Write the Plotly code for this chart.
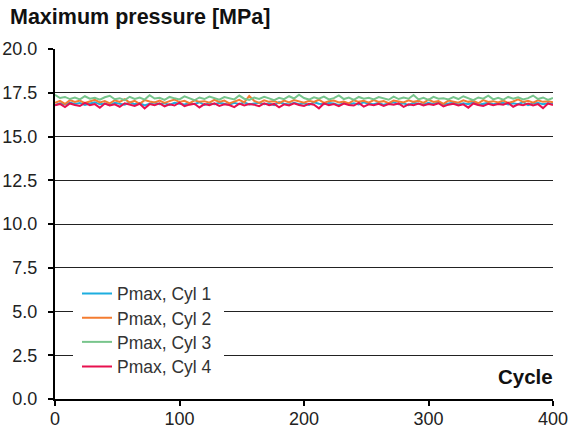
import plotly.graph_objects as go

cycles = list(range(0, 401, 4))

pmax_cyl1 = [
    16.80, 16.90, 16.83, 16.94, 16.86, 16.91, 16.81, 16.88, 16.96, 16.84,
    16.89, 16.79, 16.93, 16.87, 16.82, 16.95, 16.85, 16.91, 16.78, 16.88,
    16.94, 16.84, 16.90, 16.81, 16.93, 16.87, 16.83, 16.91, 16.85, 16.96,
    16.80, 16.90, 16.84, 16.93, 16.87, 16.81, 16.92, 16.85, 16.95, 16.83,
    16.88, 16.93, 16.84, 16.90, 16.79, 16.96, 16.87, 16.83, 16.92, 16.85,
    16.90, 16.81, 16.95, 16.87, 16.84, 16.92, 16.88, 16.79, 16.93, 16.85,
    16.90, 16.83, 16.96, 16.87, 16.84, 16.92, 16.81, 16.88, 16.95, 16.85,
    16.90, 16.79, 16.93, 16.87, 16.83, 16.92, 16.85, 16.96, 16.84, 16.88,
    16.93, 16.83, 16.90, 16.85, 16.95, 16.81, 16.88, 16.92, 16.84, 16.87,
    16.93, 16.83, 16.90, 16.85, 16.96, 16.79, 16.88, 16.92, 16.84, 16.90, 16.85]

pmax_cyl2 = [
    16.93, 17.04, 16.86, 17.08, 16.97, 17.05, 16.91, 17.00, 17.10, 16.95,
    17.02, 16.89, 17.07, 16.98, 17.13, 16.94, 17.04, 16.87, 17.08, 17.00,
    16.95, 17.05, 16.92, 17.02, 17.11, 16.97, 17.04, 16.90, 17.07, 16.98,
    17.02, 16.93, 17.09, 16.97, 17.05, 16.89, 17.00, 17.10, 16.95, 17.32,
    17.04, 16.92, 17.07, 16.98, 17.02, 16.90, 17.05, 16.95, 17.08, 17.00,
    16.93, 17.04, 16.97, 17.10, 16.92, 17.02, 17.05, 16.95, 17.00, 16.89,
    17.07, 16.98, 17.04, 16.93, 17.08, 16.97, 17.02, 16.90, 17.05, 17.00,
    16.95, 17.07, 16.98, 17.04, 16.92, 17.10, 16.97, 17.02, 16.87, 17.05,
    17.00, 16.93, 17.07, 16.98, 17.04, 16.90, 17.08, 16.97, 17.02, 16.95,
    17.05, 16.92, 17.00, 17.12, 16.97, 17.04, 16.93, 17.07, 16.98, 17.02, 16.95]

pmax_cyl3 = [
    17.38, 17.20, 17.26, 17.14, 17.22, 17.12, 17.30, 17.16, 17.21, 17.10,
    17.24, 17.33, 17.13, 17.19, 17.08, 17.27, 17.15, 17.23, 17.11, 17.36,
    17.17, 17.21, 17.09, 17.26, 17.18, 17.12, 17.29, 17.19, 17.07, 17.23,
    17.14, 17.28, 17.17, 17.10, 17.25, 17.19, 17.12, 17.34, 17.16, 17.09,
    17.22, 17.15, 17.27, 17.18, 17.08, 17.21, 17.13, 17.30, 17.17, 17.39,
    17.20, 17.11, 17.24, 17.16, 17.28, 17.12, 17.19, 17.35, 17.14, 17.22,
    17.09, 17.26, 17.16, 17.21, 17.12, 17.25, 17.18, 17.10, 17.28, 17.14,
    17.23, 17.16, 17.37, 17.12, 17.21, 17.09, 17.27, 17.16, 17.19, 17.12,
    17.25, 17.14, 17.30, 17.18, 17.08, 17.23, 17.16, 17.33, 17.12, 17.21,
    17.10, 17.26, 17.16, 17.24, 17.12, 17.19, 17.34, 17.14, 17.23, 17.09, 17.20]

pmax_cyl4 = [
    16.78, 16.86, 16.68, 16.89, 16.80, 16.74, 16.92, 16.79, 16.85, 16.64,
    16.88, 16.77, 16.84, 16.70, 16.90, 16.81, 16.75, 16.87, 16.60, 16.85,
    16.79, 16.89, 16.72, 16.84, 16.77, 16.93, 16.74, 16.82, 16.87, 16.66,
    16.85, 16.79, 16.90, 16.75, 16.84, 16.80, 16.68, 16.88, 16.77, 16.85,
    16.82, 16.73, 16.89, 16.79, 16.86, 16.67, 16.84, 16.77, 16.90, 16.80,
    16.75, 16.87, 16.82, 16.61, 16.89, 16.79, 16.85, 16.73, 16.88, 16.80,
    16.77, 16.92, 16.71, 16.84, 16.79, 16.87, 16.75, 16.85, 16.82, 16.89,
    16.69, 16.84, 16.79, 16.88, 16.77, 16.85, 16.80, 16.90, 16.72, 16.82,
    16.87, 16.77, 16.84, 16.65, 16.89, 16.80, 16.75, 16.87, 16.79, 16.85,
    16.82, 16.92, 16.70, 16.84, 16.79, 16.88, 16.77, 16.85, 16.62, 16.89, 16.80]

series_names = ["Pmax, Cyl 1", "Pmax, Cyl 2", "Pmax, Cyl 3", "Pmax, Cyl 4"]
series_values = [pmax_cyl1, pmax_cyl2, pmax_cyl3, pmax_cyl4]
colors = ["#1DAEDF", "#F47C30", "#78C58C", "#E8104F"]

y_ticks = [0.0, 2.5, 5.0, 7.5, 10.0, 12.5, 15.0, 17.5, 20.0]
y_tick_labels = ["0.0", "2.5", "5.0", "7.5", "10.0", "12.5", "15.0", "17.5", "20.0"]
x_ticks = [0, 100, 200, 300, 400]

FONT = "Liberation Sans, Arial, Helvetica, sans-serif"
W, H = 570, 428
ML, MR, MT, MB = 55, 17, 49, 29
PW, PH = W - ML - MR, H - MT - MB


def px_x(p):
    return (p - ML) / PW


def px_y(p):
    return (H - MB - p) / PH


fig = go.Figure()
legend_rows = [293.5, 317.8, 342.0, 366.5]
legend_names = ["legend", "legend2", "legend3", "legend4"]
for name, vals, col, lg in zip(series_names, series_values, colors, legend_names):
    fig.add_trace(go.Scatter(x=cycles, y=vals, mode="lines", name=name,
                             line=dict(color=col, width=2), legend=lg))

legend_common = dict(xanchor="left", yanchor="middle", bgcolor="rgba(0,0,0,0)",
                     font=dict(family=FONT, size=17.5, color="#333"),
                     itemwidth=30, borderwidth=0)
layout_legends = {}
for lg, row in zip(legend_names, legend_rows):
    layout_legends[lg] = dict(x=px_x(77), y=px_y(row), **legend_common)

fig.update_layout(
    width=W, height=H,
    margin=dict(l=ML, r=MR, t=MT, b=MB),
    paper_bgcolor="white", plot_bgcolor="white",
    font=dict(family=FONT, size=18, color="#222"),
    showlegend=True,
    **layout_legends,
    shapes=[dict(type="rect", xref="paper", yref="paper",
                 x0=px_x(73), x1=px_x(224), y0=px_y(380), y1=px_y(280),
                 fillcolor="white", line=dict(width=0), layer="above")],
    annotations=[
        dict(text="<b>Maximum pressure [MPa]</b>", x=px_x(8), y=px_y(17.5),
             xref="paper", yref="paper", showarrow=False,
             xanchor="left", yanchor="middle", font=dict(size=21.5, color="#111")),
        dict(text="<b>Cycle</b>", x=px_x(555), y=px_y(376), xref="paper", yref="paper",
             showarrow=False, xanchor="right", yanchor="middle",
             font=dict(size=20.5, color="#111")),
    ],
)

fig.update_xaxes(range=[0, 400], tickvals=x_ticks, showgrid=False, zeroline=False,
                 automargin=False,
                 showline=True, linecolor="black", linewidth=2,
                 ticks="outside", ticklen=5, tickcolor="black", tickwidth=1.5,
                 ticklabelstandoff=-3,
                 tickfont=dict(size=18, color="#222"))
fig.update_yaxes(range=[0, 20], tickvals=y_ticks, ticktext=y_tick_labels,
                 showgrid=True, gridcolor="#222", gridwidth=1.3, zeroline=False,
                 automargin=False,
                 showline=True, linecolor="black", linewidth=2,
                 ticks="outside", ticklen=5, tickcolor="black", tickwidth=1.5,
                 ticklabelstandoff=7,
                 tickfont=dict(size=18, color="#222"))

fig.write_html("out.html", config={"displayModeBar": False})
with open("out.html", encoding="utf-8") as f:
    html = f.read()
html = html.replace("<head>", "<head><style>body{margin:0;}</style>", 1)
with open("out.html", "w", encoding="utf-8") as f:
    f.write(html)
